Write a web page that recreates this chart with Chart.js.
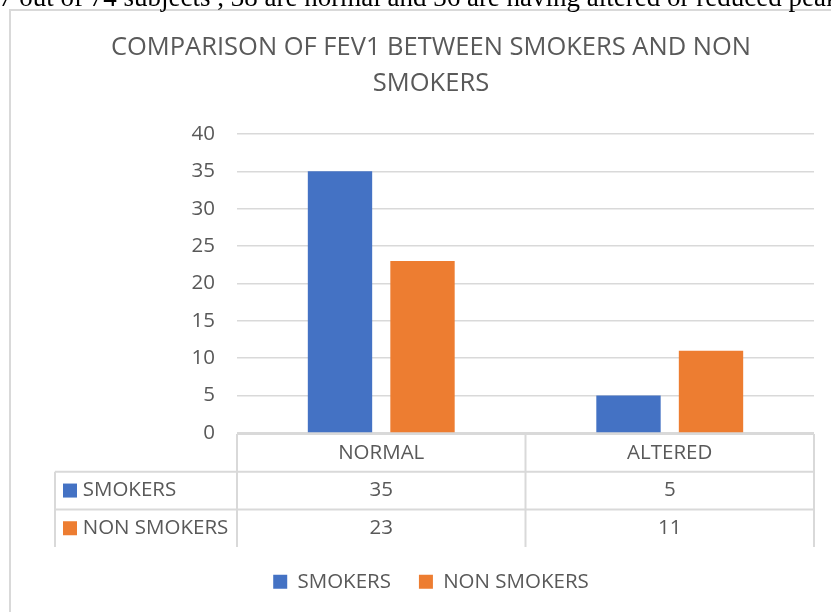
<!DOCTYPE html>
<html>
<head>
<meta charset="utf-8">
<title>FEV1 smokers vs non smokers</title>
<script src="https://cdn.jsdelivr.net/npm/chart.js@4.4.0/dist/chart.umd.min.js"></script>
<style>
    html, body { margin: 0; padding: 0; width: 831px; height: 612px; overflow: hidden; background: #fff; }
    .note {
        position: absolute; left: -1px; top: -18px; z-index: 2;
        font: 27px "Liberation Serif", "Times New Roman", serif;
        white-space: nowrap; color: #000;
    }
    .frame { position: absolute; left: 9px; top: 9px; width: 860px; height: 700px; border: 2px solid #d9d9d9; }
    #wrap { position: absolute; left: 11px; top: 11px; width: 832px; height: 601px; }
</style>
</head>
<body>
<div class="note">7 out of 74 subjects , 38 are normal and 36 are having altered or reduced peak</div>
<div class="frame"></div>
<div id="wrap"><canvas id="fevChart" width="832" height="601"></canvas></div>
<script>
const categories = ['NORMAL', 'ALTERED'];
const seriesNames = ['SMOKERS', 'NON SMOKERS'];
const smokers = [35, 5];
const nonSmokers = [23, 11];
const seriesColors = ['#4472C4', '#ED7D31'];
const yMin = 0, yMax = 40, yStep = 5;

const textColor = '#595959';
const lineColor = '#d9d9d9';
const fontFamily = "'Open Sans', sans-serif";
const labelSize = 20.5;

// data table under the plot, columns follow the x scale
const dataTable = {
    id: 'dataTable',
    afterDraw(chart) {
        const ctx = chart.ctx;
        const area = chart.chartArea;
        const xs = chart.scales.x;
        const colW = (area.right - area.left) / categories.length;
        const rowH = 37.7;
        const top = area.bottom + 1;
        const headLeft = 44;
        const rows = [smokers, nonSmokers];
        const bottom = top + rowH * (rows.length + 1);

        ctx.save();
        ctx.strokeStyle = lineColor;
        ctx.lineWidth = 2;
        ctx.beginPath();
        // header line over the category columns only
        ctx.moveTo(area.left, top);
        ctx.lineTo(area.right, top);
        for (let r = 1; r <= rows.length; r++) {
            ctx.moveTo(headLeft, top + rowH * r);
            ctx.lineTo(area.right, top + rowH * r);
        }
        ctx.moveTo(headLeft, top + rowH);
        ctx.lineTo(headLeft, bottom);
        for (let c = 0; c <= categories.length; c++) {
            const x = area.left + colW * c;
            ctx.moveTo(x, top);
            ctx.lineTo(x, bottom);
        }
        ctx.stroke();

        ctx.font = labelSize + "px " + fontFamily;
        ctx.fillStyle = textColor;
        ctx.textBaseline = 'middle';
        ctx.textAlign = 'center';
        categories.forEach((cat, i) => {
            ctx.fillText(cat, xs.getPixelForValue(i), top + rowH / 2);
        });
        rows.forEach((vals, r) => {
            const cy = top + rowH * (r + 1.5);
            vals.forEach((v, i) => {
                ctx.fillStyle = textColor;
                ctx.textAlign = 'center';
                ctx.fillText(String(v), xs.getPixelForValue(i), cy);
            });
            ctx.fillStyle = seriesColors[r];
            ctx.fillRect(headLeft + 8, cy - 7, 14, 14);
            ctx.fillStyle = textColor;
            ctx.textAlign = 'left';
            ctx.fillText(seriesNames[r], headLeft + 27.7, cy);
        });
        ctx.restore();
    }
};

const ctx = document.getElementById('fevChart');
new Chart(ctx, {
    type: 'bar',
    data: {
        labels: categories,
        datasets: [{
            label: seriesNames[0],
            data: smokers,
            backgroundColor: seriesColors[0],
            categoryPercentage: 0.572,
            barPercentage: 0.78
        }, {
            label: seriesNames[1],
            data: nonSmokers,
            backgroundColor: seriesColors[1],
            categoryPercentage: 0.572,
            barPercentage: 0.78
        }]
    },
    options: {
        responsive: false,
        animation: false,
        devicePixelRatio: 1,
        layout: { padding: { left: 37, right: 29, top: 0, bottom: 10 } },
        plugins: {
            title: {
                display: true,
                text: ['COMPARISON OF FEV1 BETWEEN SMOKERS AND NON', 'SMOKERS'],
                color: textColor,
                font: { family: fontFamily, size: 25.5, weight: 'normal', lineHeight: 1.41 },
                padding: { top: 19, bottom: 32 }
            },
            legend: {
                position: 'bottom',
                labels: {
                    color: textColor,
                    font: { family: fontFamily, size: labelSize },
                    boxWidth: 14,
                    boxHeight: 14,
                    padding: 28
                }
            },
            tooltip: { enabled: false }
        },
        scales: {
            x: {
                grid: { display: false },
                border: { display: false },
                ticks: { display: false },
                afterFit(scale) { scale.height = 110.5; }
            },
            y: {
                min: yMin,
                max: yMax,
                ticks: {
                    stepSize: yStep,
                    color: textColor,
                    padding: 22,
                    font: { family: fontFamily, size: labelSize }
                },
                grid: { color: lineColor, lineWidth: 1.5, drawTicks: false },
                border: { display: false },
                afterFit(scale) { scale.width = 189; }
            }
        }
    },
    plugins: [dataTable]
});
</script>
</body>
</html>
